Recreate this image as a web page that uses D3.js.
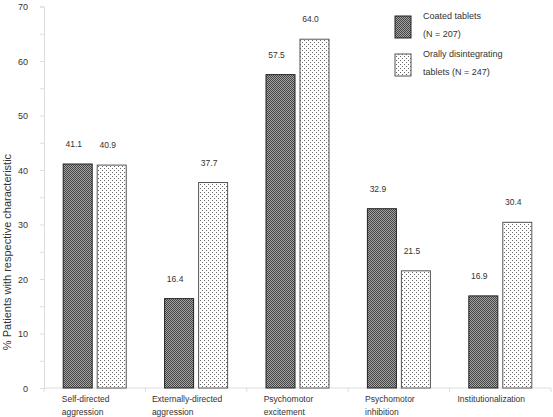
<!DOCTYPE html>
<html><head><meta charset="utf-8">
<script src="https://cdn.jsdelivr.net/npm/d3@7"></script>
<style>body{margin:0;background:#fff}svg{display:block;font-family:"Liberation Sans",Arial,sans-serif}</style>
</head><body><svg id="c" width="553" height="417"></svg>
<script>
const categories = [["Self-directed","aggression"],["Externally-directed","aggression"],["Psychomotor","excitement"],["Psychomotor","inhibition"],["Institutionalization"]];
const coated = [41.1, 16.4, 57.5, 32.9, 16.9];
const orally = [40.9, 37.7, 64.0, 21.5, 30.4];
const seriesNames = [["Coated tablets","(N = 207)"],["Orally disintegrating","tablets (N = 247)"]];
const yTicks = [0,10,20,30,40,50,60,70];

const svg = d3.select("#c");
const defs = svg.append("defs");
const pd = defs.append("pattern").attr("id","pd").attr("width",2).attr("height",2).attr("patternUnits","userSpaceOnUse");
pd.append("rect").attr("width",2).attr("height",2).attr("fill","#a4a4a4");
pd.append("rect").attr("x",0).attr("y",0).attr("width",1).attr("height",1).attr("fill","#444");
pd.append("rect").attr("x",1).attr("y",1).attr("width",1).attr("height",1).attr("fill","#444");
const pl = defs.append("pattern").attr("id","pl").attr("width",4).attr("height",4).attr("patternUnits","userSpaceOnUse");
pl.append("rect").attr("width",4).attr("height",4).attr("fill","#fff");
pl.append("rect").attr("x",0).attr("y",0).attr("width",1).attr("height",1).attr("fill","#666");
pl.append("rect").attr("x",2).attr("y",2).attr("width",1).attr("height",1).attr("fill","#666");

const x0 = 44, x1 = 551, yb = 388, yt = 6.5;
const x = d3.scaleBand().domain(d3.range(categories.length)).range([x0,x1]);
const y = d3.scaleLinear().domain([0,70]).range([yb,yt]);

// y axis
const ya = svg.append("g").attr("transform",`translate(${x0},0)`)
  .call(d3.axisLeft(y).tickValues(d3.range(0,71,5)).tickSize(4).tickFormat(d=>yTicks.includes(d)?d:""));
ya.select(".domain").attr("stroke","#ddd");
ya.selectAll(".tick line").attr("stroke","#ddd");
ya.selectAll(".tick text").attr("font-size",9).attr("fill","#333").attr("x",-16).attr("dy","0.35em").attr("font-family","Liberation Sans, Arial");

// x axis
const xa = svg.append("g").attr("transform",`translate(0,${yb})`);
xa.append("line").attr("x1",x0).attr("x2",x1).attr("stroke","#ddd");
d3.range(categories.length+1).forEach(i=>{
  const xx = x0 + i*x.bandwidth();
  xa.append("line").attr("x1",xx).attr("x2",xx).attr("y1",0).attr("y2",4).attr("stroke","#ddd");
});

const bw = 29, gap = 5;
const series = [{vals:coated,fill:"url(#pd)",stroke:"#222"},{vals:orally,fill:"url(#pl)",stroke:"#555"}];
series.forEach((s,si)=>{
  svg.append("g").selectAll("rect").data(s.vals).join("rect")
    .attr("x",(d,i)=>x(i)+x.bandwidth()/2 - bw - gap/2 + si*(bw+gap))
    .attr("y",d=>y(d)).attr("width",bw).attr("height",d=>yb-y(d))
    .attr("fill",s.fill).attr("stroke",s.stroke).attr("stroke-width",1);
  svg.append("g").selectAll("text").data(s.vals).join("text")
    .attr("x",(d,i)=>x(i)+x.bandwidth()/2 - bw/2 - gap/2 + si*(bw+gap) - 4)
    .attr("y",d=>y(d)-17).attr("text-anchor","middle").attr("font-size",8.5).attr("fill","#333")
    .text(d=>d.toFixed(1));
});

// category labels
categories.forEach((lines,i)=>{
  const g = svg.append("g");
  const ts = lines.map((l,j)=>g.append("text").attr("y",402+j*12.5).attr("font-size",8.5).attr("fill","#333").text(l));
  const w = d3.max(ts,t=>t.node().getComputedTextLength());
  const left = x(i)+x.bandwidth()/2 - 9 - w/2;
  ts.forEach(t=>t.attr("x",left));
});

// y title
svg.append("text").attr("transform","translate(11,252) rotate(-90)").attr("text-anchor","middle")
  .attr("font-size",11).attr("fill","#333").text("% Patients with respective characteristic");

// legend
const lg = svg.append("g");
[[16,"url(#pd)","#222"],[54,"url(#pl)","#555"]].forEach((b,i)=>{
  lg.append("rect").attr("x",395).attr("y",b[0]).attr("width",16).attr("height",22).attr("fill",b[1]).attr("stroke",b[2]);
  seriesNames[i].forEach((t,j)=>lg.append("text").attr("x",423).attr("y",b[0]+3+j*18).attr("font-size",9).attr("fill","#333").text(t));
});
</script></body></html>
